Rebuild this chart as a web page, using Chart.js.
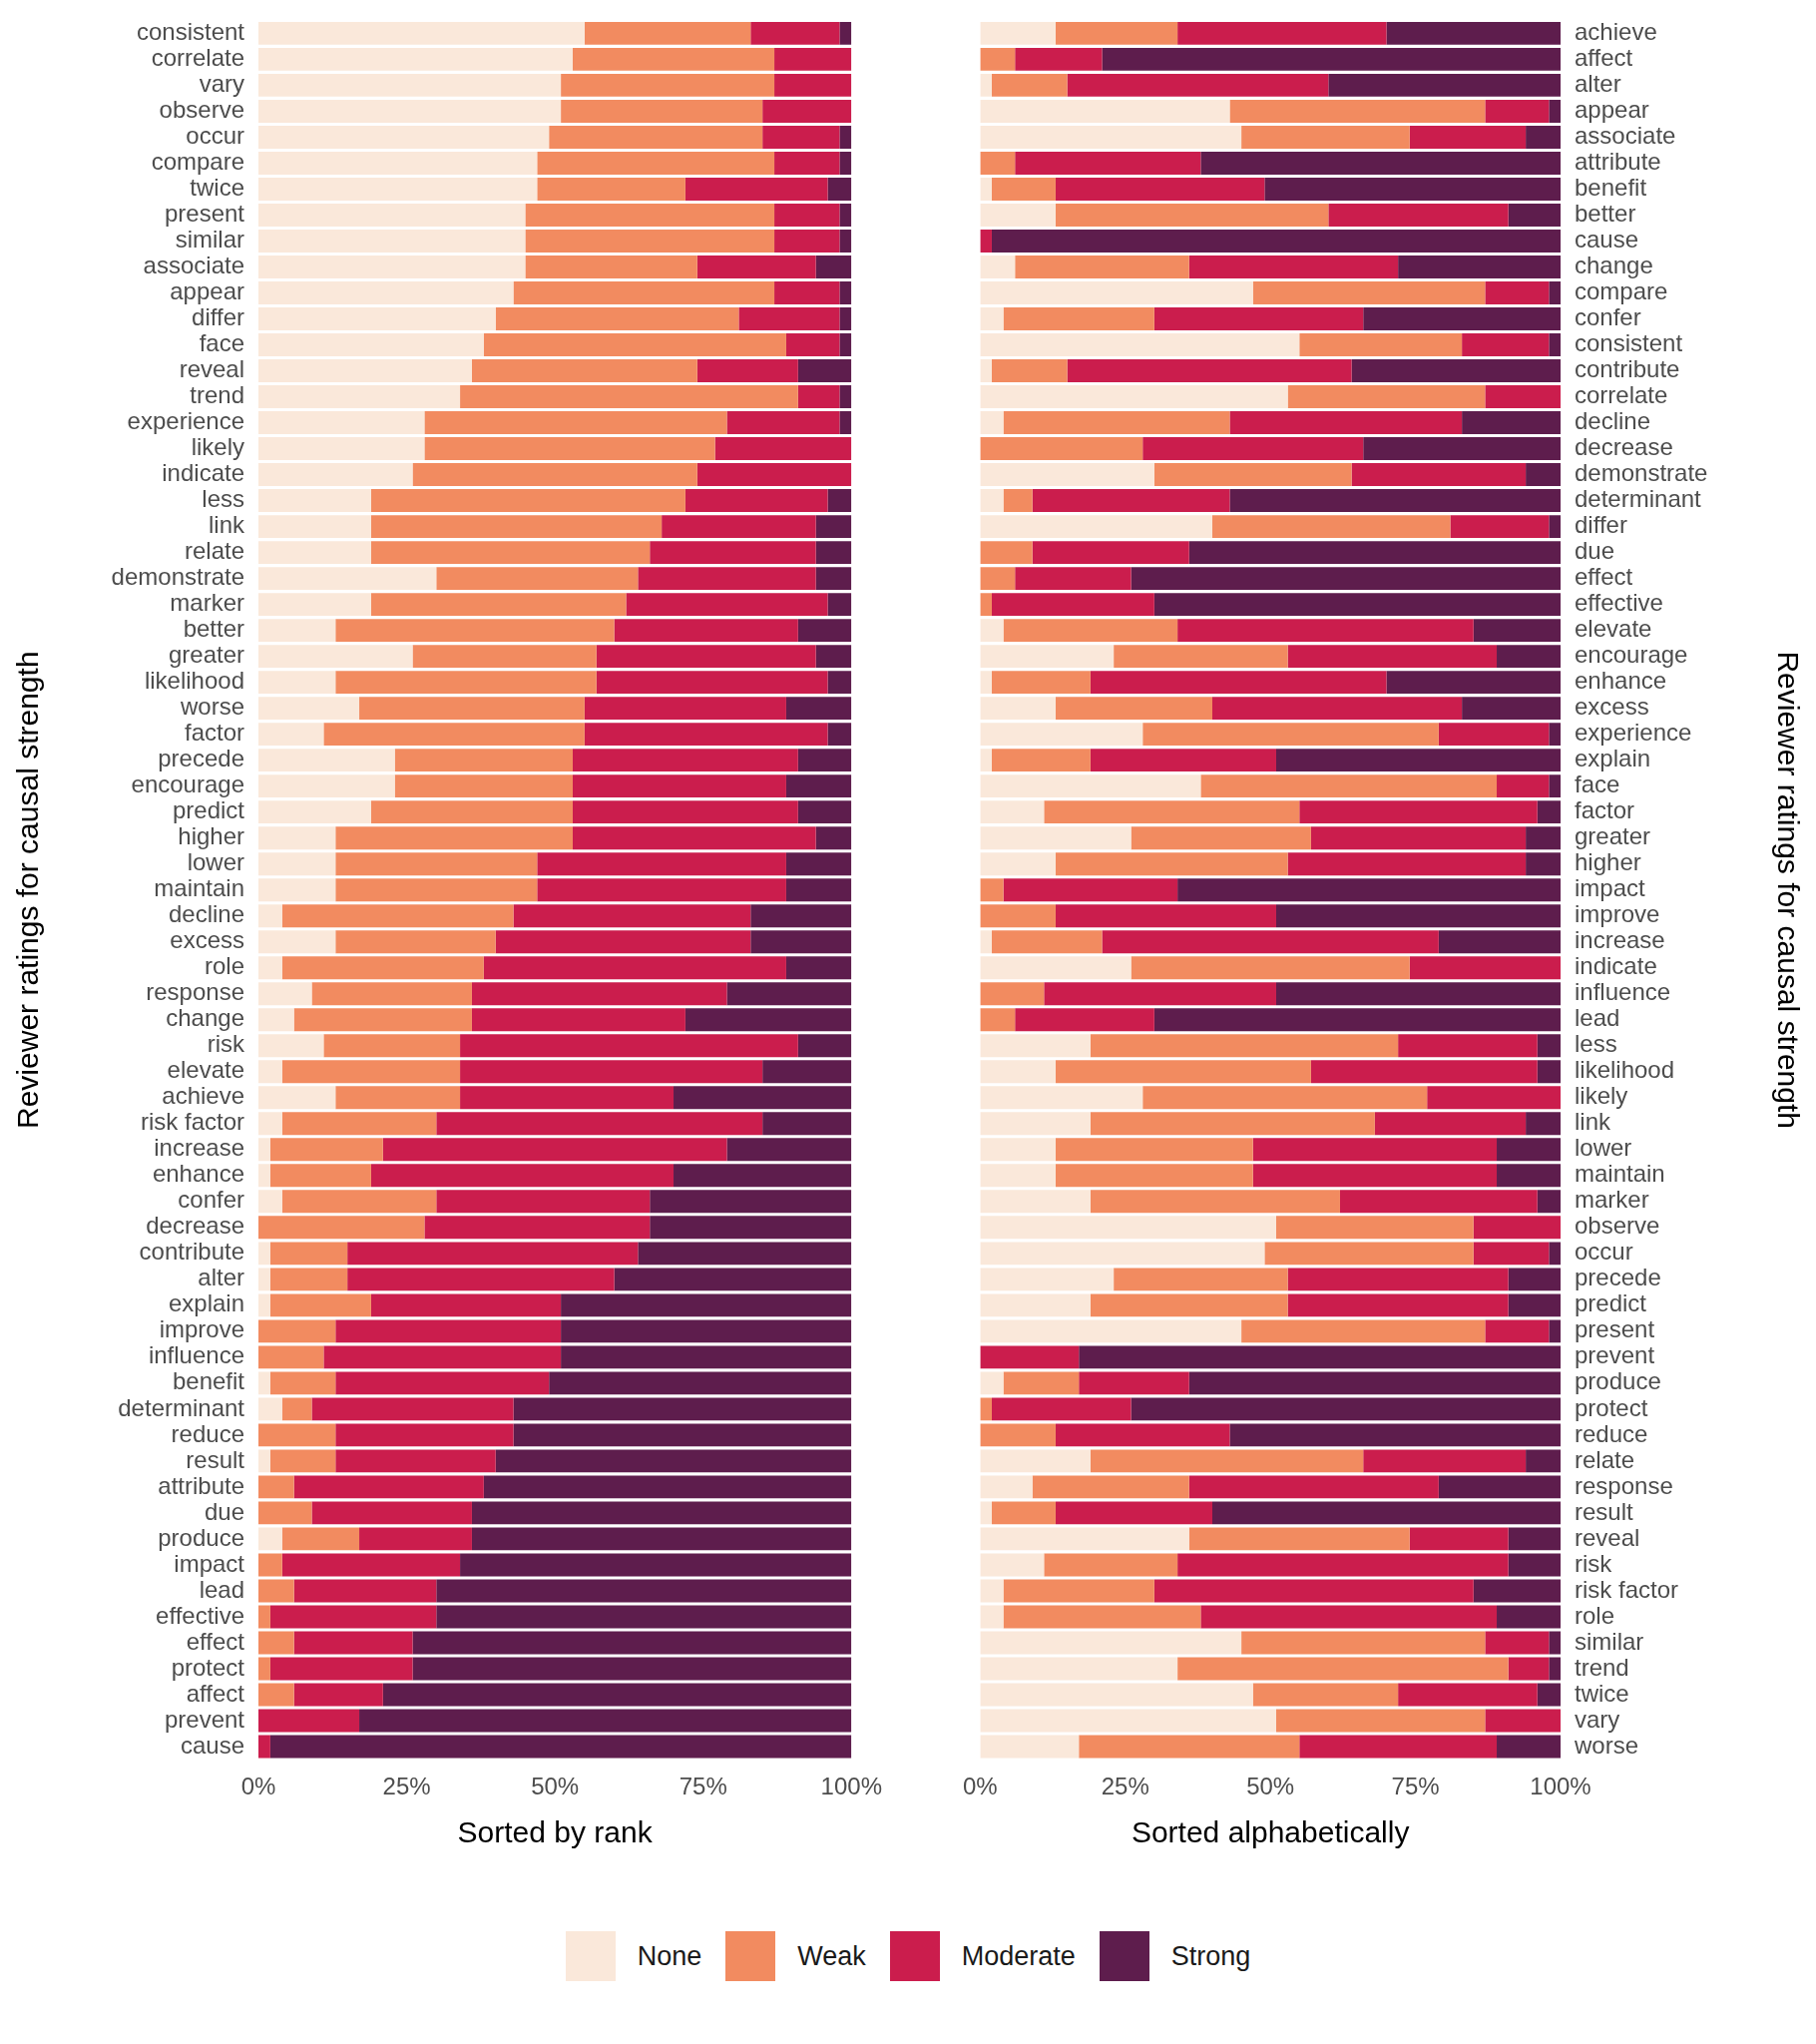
<!DOCTYPE html>
<html>
<head>
<meta charset="utf-8">
<script src="https://cdn.jsdelivr.net/npm/chart.js@4"></script>
<style>
  body { margin: 0; background: #fff; width: 1820px; height: 2048px; position: relative; font-family: Arial, "Liberation Sans", sans-serif; }
  canvas { position: absolute; top: 0; }
  #legend { position: absolute; top: 1935px; left: 0; width: 1820px; display: flex; justify-content: center; gap: 0; font-size: 27px; color: #1a1a1a; }
  .item { display: flex; align-items: center; margin: 0 12px; }
  .sw { width: 50px; height: 50px; margin-right: 22px; }
</style>
</head>
<body>
<canvas id="left" width="890" height="1860" style="left:0"></canvas>
<canvas id="right" width="861" height="1860" style="left:959px"></canvas>
<div id="legend"></div>
<script>
// words in rank order (top to bottom of the left panel)
const words = ["consistent","correlate","vary","observe","occur","compare","twice","present","similar","associate",
  "appear","differ","face","reveal","trend","experience","likely","indicate","less","link",
  "relate","demonstrate","marker","better","greater","likelihood","worse","factor","precede","encourage",
  "predict","higher","lower","maintain","decline","excess","role","response","change","risk",
  "elevate","achieve","risk factor","increase","enhance","confer","decrease","contribute","alter","explain",
  "improve","influence","benefit","determinant","reduce","result","attribute","due","produce","impact",
  "lead","effective","effect","protect","affect","prevent","cause"];

// percentages per rating
const none = [55,53,51,51,49,47,47,45,45,45, 43,40,38,36,34,28,28,26,19,19, 19,30,19,13,26,13,17,11,23,23,
  19,13,13,13,4,13,4,9,6,11, 4,13,4,2,2,4,0,2,2,2, 0,0,2,4,0,2,0,0,4,0, 0,0,0,0,0,0,0];
const weak = [28,34,36,34,36,40,25,42,42,29, 44,41,51,38,57,51,49,48,53,49, 47,34,43,47,31,44,38,44,30,30,
  34,40,34,34,39,27,34,27,30,23, 30,21,26,19,17,26,28,13,13,17, 13,11,11,5,13,11,6,9,13,4, 6,2,6,2,6,0,0];
const moderate = [15,13,13,15,13,11,24,11,11,20, 11,17,9,17,7,19,23,26,24,26, 28,30,34,31,37,39,34,41,38,36,
  38,41,42,42,40,43,51,43,36,57, 51,36,55,58,51,36,38,49,45,32, 38,40,36,34,30,27,32,27,19,30, 24,28,20,24,15,17,2];
const strong = [2,0,0,0,2,2,4,2,2,6, 2,2,2,9,2,2,0,0,4,6, 6,6,4,9,6,4,11,4,9,11, 9,6,11,11,17,17,11,21,28,9,
  15,30,15,21,30,34,34,36,40,49, 49,49,51,57,57,60,62,64,64,66, 70,70,74,74,79,83,98];

const levels = ["None","Weak","Moderate","Strong"];
const colors = ["#FAE8DA","#F28B60","#CB1D4D","#5E1D4D"];

function rows(order) {
  const series = [none, weak, moderate, strong];
  return series.map(s => order.map(i => {
    const tot = none[i] + weak[i] + moderate[i] + strong[i];
    return s[i] * 100 / tot;
  }));
}

function makeChart(id, order, side, title) {
  const vals = rows(order);
  return new Chart(document.getElementById(id), {
    type: 'bar',
    data: {
      labels: order.map(i => words[i]),
      datasets: levels.map((l, k) => ({
        label: l, data: vals[k], backgroundColor: colors[k],
        barPercentage: 0.88, categoryPercentage: 1
      }))
    },
    options: {
      indexAxis: 'y', responsive: false, animation: false, devicePixelRatio: 1,
      layout: { padding: { top: 20, left: side == 'left' ? 8 : 0, right: side == 'right' ? 8 : 25 } },
      plugins: { legend: { display: false }, tooltip: { enabled: false } },
      scales: {
        x: {
          stacked: true, min: 0, max: 100,
          grid: { display: false }, border: { display: false },
          ticks: { stepSize: 25, callback: v => v + '%', color: '#4d4d4d', font: { size: 24 }, padding: 6 },
          title: { display: true, text: title, color: '#000', font: { size: 30 }, padding: { top: 4 } },
          afterFit: s => { s.height = 97; }
        },
        y: {
          stacked: true, position: side,
          grid: { display: false }, border: { display: false },
          ticks: { color: '#4d4d4d', font: { size: 24 }, padding: 6, autoSkip: false },
          title: { display: true, text: 'Reviewer ratings for causal strength', color: '#000', font: { size: 30 } },
          afterFit: s => { s.width = side == 'left' ? 251 : 248; }
        }
      }
    }
  });
}

const rankOrder = words.map((w, i) => i);
const alphaOrder = rankOrder.slice().sort((a, b) => words[a].localeCompare(words[b]));

makeChart('left', rankOrder, 'left', 'Sorted by rank');
makeChart('right', alphaOrder, 'right', 'Sorted alphabetically');

const lg = document.getElementById('legend');
levels.forEach((l, k) => {
  lg.innerHTML += '<div class="item"><div class="sw" style="background:' + colors[k] + '"></div>' + l + '</div>';
});
</script>
</body>
</html>
